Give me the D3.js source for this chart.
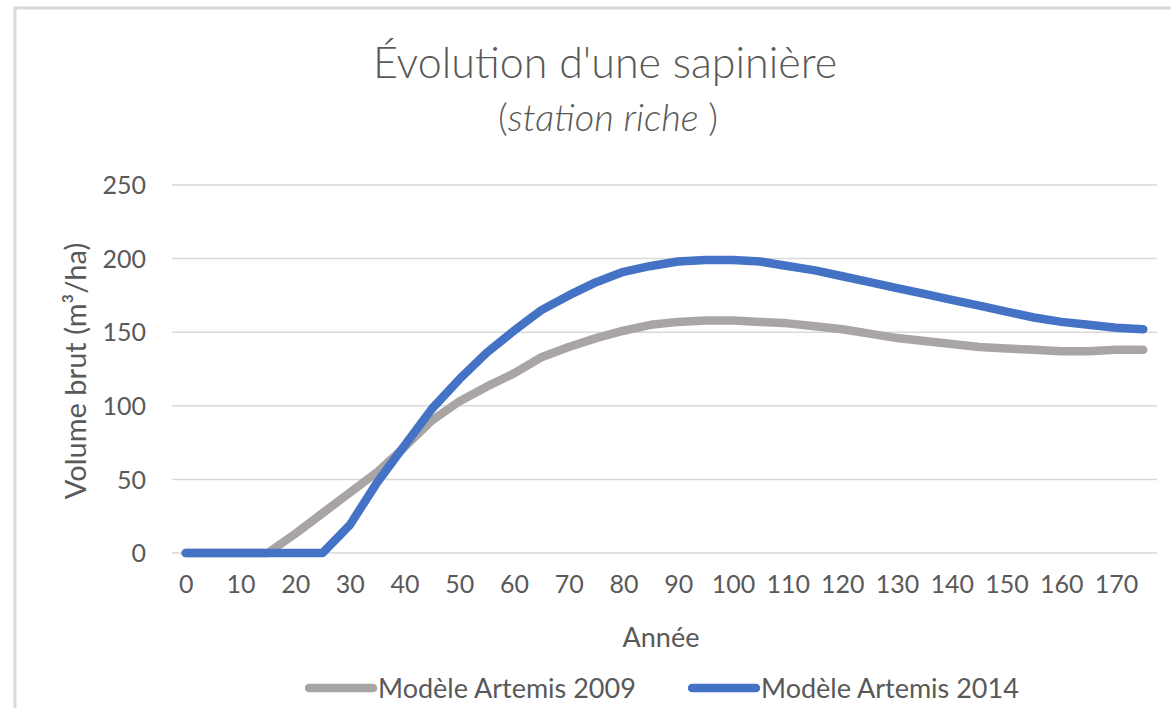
<!DOCTYPE html>
<html>
<head>
<meta charset="utf-8">
<script src="https://cdn.jsdelivr.net/npm/d3@7"></script>
<style>
  body { margin: 0; background: #fff; }
  text { font-family: Lato, "Open Sans", sans-serif; fill: #595959; }
</style>
</head>
<body>
<div id="chart"></div>
<script>
// years, every 5
var years = d3.range(0, 180, 5);
var artemis2009 = [0, 0, 0, 0, 13, 27, 41, 55, 72, 90, 103, 113, 122, 133, 140, 146, 151, 155, 157, 158,
                   158, 157, 156, 154, 152, 149, 146, 144, 142, 140, 139, 138, 137, 137, 138, 138];
var artemis2014 = [0, 0, 0, 0, 0, 0, 19, 48, 73, 98, 118, 136, 151, 165, 175, 184, 191, 195, 198, 199,
                   199, 198, 195, 192, 188, 184, 180, 176, 172, 168, 164, 160, 157, 155, 153, 152];
var yTicks = [0, 50, 100, 150, 200, 250];
var seriesNames = ["Modèle Artemis 2009", "Modèle Artemis 2014"];
var seriesColors = ["#A9A5A4", "#4472C4"];

var width = 1171, height = 708;

var svg = d3.select("#chart").append("svg")
    .attr("width", width)
    .attr("height", height);

// chart frame (right and bottom edges fall outside the picture)
svg.append("rect")
    .attr("x", 15).attr("y", 8)
    .attr("width", 1200).attr("height", 760)
    .attr("fill", "none")
    .attr("stroke", "#d9d9d9")
    .attr("stroke-width", 3);

var x = d3.scalePoint()
    .domain(years)
    .range([172, 1157])
    .padding(0.5);

var y = d3.scaleLinear()
    .domain([0, 250])
    .range([553, 185]);

// gridlines
svg.append("g").selectAll("line").data(yTicks).enter()
    .append("line")
    .attr("x1", 172).attr("x2", 1157)
    .attr("y1", function(d) { return y(d); })
    .attr("y2", function(d) { return y(d); })
    .attr("stroke", "#d9d9d9")
    .attr("stroke-width", 1.5);

// y axis labels
var yAxis = svg.append("g")
    .attr("transform", "translate(146,0)")
    .call(d3.axisLeft(y).tickValues(yTicks).tickSize(0).tickPadding(0));
yAxis.select(".domain").remove();
yAxis.selectAll("text")
    .attr("font-size", "25px")
    .attr("font-family", "Lato, sans-serif")
    .attr("fill", "#595959")
    .attr("dy", "0.35em");

// x axis labels, every 10 years
var xAxis = svg.append("g")
    .attr("transform", "translate(0,553)")
    .call(d3.axisBottom(x)
        .tickValues(years.filter(function(d) { return d % 10 === 0; }))
        .tickSize(0).tickPadding(31));
xAxis.select(".domain").remove();
xAxis.selectAll("text")
    .attr("font-size", "25px")
    .attr("font-family", "Lato, sans-serif")
    .attr("fill", "#595959")
    .attr("dy", "0.35em");

// lines
var line = d3.line()
    .x(function(d, i) { return x(years[i]); })
    .y(function(d) { return y(d); });

[artemis2009, artemis2014].forEach(function(s, k) {
    svg.append("path")
        .datum(s)
        .attr("d", line)
        .attr("fill", "none")
        .attr("stroke", seriesColors[k])
        .attr("stroke-width", 8.5)
        .attr("stroke-linecap", "round")
        .attr("stroke-linejoin", "round");
});

// titles
svg.append("text")
    .attr("x", 605).attr("y", 78)
    .attr("text-anchor", "middle")
    .attr("font-size", "43px")
    .attr("font-weight", 300)
    .text("Évolution d'une sapinière");

var sub = svg.append("text")
    .attr("x", 608).attr("y", 131)
    .attr("text-anchor", "middle")
    .attr("font-size", "38px")
    .attr("font-weight", 300);
sub.append("tspan").text("(");
sub.append("tspan").attr("font-style", "italic").text("station riche ");
sub.append("tspan").text(")");

svg.append("text")
    .attr("transform", "translate(86,371) rotate(-90)")
    .attr("text-anchor", "middle")
    .attr("font-size", "29px")
    .text("Volume brut (m³/ha)");

svg.append("text")
    .attr("x", 661).attr("y", 647)
    .attr("text-anchor", "middle")
    .attr("font-size", "27px")
    .text("Année");

// legend
var legendX = [305, 688];
var lg = svg.append("g").selectAll("g").data(seriesNames).enter()
    .append("g")
    .attr("transform", function(d, i) { return "translate(" + legendX[i] + ",688)"; });
lg.append("line")
    .attr("x1", 4).attr("x2", 68)
    .attr("y1", 0).attr("y2", 0)
    .attr("stroke", function(d, i) { return seriesColors[i]; })
    .attr("stroke-width", 8.5)
    .attr("stroke-linecap", "round");
lg.append("text")
    .attr("x", 73).attr("y", 10)
    .attr("font-size", "27px")
    .text(function(d) { return d; });
</script>
</body>
</html>
